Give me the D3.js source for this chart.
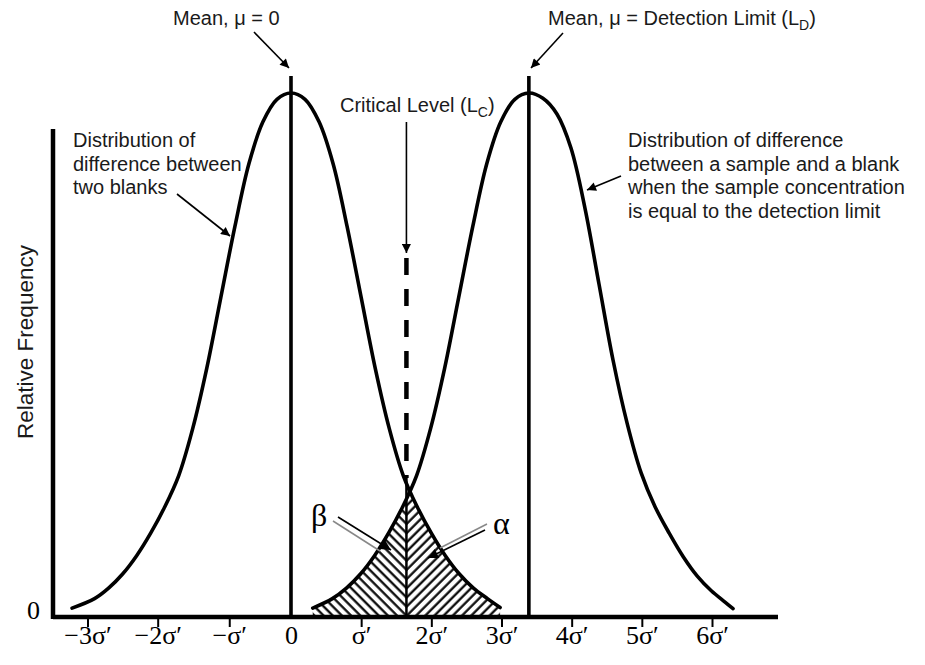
<!DOCTYPE html>
<html>
<head>
<meta charset="utf-8">
<script src="https://cdn.jsdelivr.net/npm/d3@7"></script>
<style>
  body { margin: 0; background: #fff; }
  svg { display: block; }
  .note { font-family: "Liberation Sans", Arial, sans-serif; font-size: 20px; fill: #1a1a1a; }
  .tick text { font-family: "Liberation Serif", "Times New Roman", serif; font-size: 26px; fill: #000; }
  .greek { font-family: "Liberation Serif", "Times New Roman", serif; font-size: 32px; fill: #000; }
</style>
</head>
<body>
<script>
// x in units of sigma', y = relative frequency (peak = 1)
const blankX = [-3.12, -2.8, -2.6, -2.4, -2.2, -2.0, -1.8, -1.6, -1.4, -1.2, -1.0, -0.8, -0.6, -0.4, -0.2, 0,
                0.2, 0.4, 0.6, 0.8, 1.0, 1.2, 1.4, 1.6, 1.8, 2.0, 2.2, 2.4, 2.6, 2.8, 2.98]
const blankY = [0.017, 0.035, 0.055, 0.082, 0.117, 0.16, 0.21, 0.27, 0.36, 0.475, 0.61, 0.745, 0.865, 0.945, 0.988, 1.0,
                0.988, 0.945, 0.865, 0.745, 0.61, 0.475, 0.36, 0.27, 0.21, 0.16, 0.117, 0.082, 0.055, 0.035, 0.018]
const sampleX = [0.31, 0.59, 0.79, 0.99, 1.19, 1.39, 1.59, 1.79, 1.99, 2.19, 2.39, 2.59, 2.79, 2.99, 3.19, 3.39,
                 3.59, 3.79, 3.99, 4.19, 4.39, 4.59, 4.79, 4.99, 5.19, 5.39, 5.59, 5.79, 5.99, 6.19, 6.30]
const sampleY = [0.017, 0.035, 0.055, 0.082, 0.117, 0.16, 0.21, 0.27, 0.36, 0.475, 0.61, 0.745, 0.865, 0.945, 0.988, 1.0,
                 0.99, 0.96, 0.895, 0.78, 0.635, 0.49, 0.37, 0.275, 0.21, 0.16, 0.115, 0.078, 0.05, 0.028, 0.016]
const meanBlank = 0
const detectionLimit = 3.39
const criticalLevel = 1.645
const tickPos = [-2.9, -1.9, -0.88, 0, 1, 2, 3, 4, 5, 6]
const tickLabels = ["\u22123\u03c3\u2032", "\u22122\u03c3\u2032", "\u2212\u03c3\u2032", "0", "\u03c3\u2032", "2\u03c3\u2032", "3\u03c3\u2032", "4\u03c3\u2032", "5\u03c3\u2032", "6\u03c3\u2032"]

const w = 925
const h = 665

const x = d3.scaleLinear().domain([0, 6]).range([291, 712])
const y = d3.scaleLinear().domain([0, 1]).range([617, 93])

const svg = d3.select("body").append("svg")
  .attr("width", w)
  .attr("height", h)

const defs = svg.append("defs")

// hatch patterns: "\" for beta, "/" for alpha
const hatch = (id, angle) => {
  defs.append("pattern")
    .attr("id", id)
    .attr("patternUnits", "userSpaceOnUse")
    .attr("width", 6.5)
    .attr("height", 6.5)
    .attr("patternTransform", "rotate(" + angle + ")")
    .append("line")
    .attr("x1", 1.5).attr("y1", -1).attr("x2", 1.5).attr("y2", 8)
    .attr("stroke", "#000")
    .attr("stroke-width", 2.2)
}
hatch("hatchBeta", -45)
hatch("hatchAlpha", 45)

defs.append("marker")
  .attr("id", "head")
  .attr("viewBox", "0 0 10 10")
  .attr("refX", 10).attr("refY", 5)
  .attr("markerUnits", "userSpaceOnUse")
  .attr("markerWidth", 12).attr("markerHeight", 9)
  .attr("orient", "auto")
  .append("path").attr("d", "M0,0 L10,5 L0,10 Z").attr("fill", "#000")

defs.append("marker")
  .attr("id", "bighead")
  .attr("viewBox", "0 0 10 10")
  .attr("refX", 10).attr("refY", 5)
  .attr("markerUnits", "userSpaceOnUse")
  .attr("markerWidth", 15).attr("markerHeight", 10)
  .attr("orient", "auto")
  .append("path").attr("d", "M0,0 L10,5 L0,10 Z").attr("fill", "#000")

defs.append("clipPath").attr("id", "leftOfLc")
  .append("rect").attr("x", 0).attr("y", 0).attr("width", x(criticalLevel)).attr("height", h)
defs.append("clipPath").attr("id", "rightOfLc")
  .append("rect").attr("x", x(criticalLevel)).attr("y", 0).attr("width", w - x(criticalLevel)).attr("height", h)

const blank = blankX.map((d, i) => [d, blankY[i]])
const sample = sampleX.map((d, i) => [d, sampleY[i]])

const area = d3.area()
  .x(d => x(d[0]))
  .y0(y(0))
  .y1(d => y(d[1]))
  .curve(d3.curveCatmullRom)

const line = d3.line()
  .x(d => x(d[0]))
  .y(d => y(d[1]))
  .curve(d3.curveCatmullRom)

// beta: sample curve left of Lc, alpha: blank curve right of Lc
svg.append("path").attr("d", area(sample)).attr("fill", "url(#hatchBeta)").attr("clip-path", "url(#leftOfLc)")
svg.append("path").attr("d", area(blank)).attr("fill", "url(#hatchAlpha)").attr("clip-path", "url(#rightOfLc)")

svg.selectAll(".curve")
  .data([blank, sample])
  .enter()
  .append("path")
  .attr("class", "curve")
  .attr("d", line)
  .attr("fill", "none")
  .attr("stroke", "#000")
  .attr("stroke-width", 3.6)
  .attr("stroke-linecap", "round")

// mean lines
svg.selectAll(".mean")
  .data([meanBlank, detectionLimit])
  .enter()
  .append("line")
  .attr("class", "mean")
  .attr("x1", d => x(d)).attr("x2", d => x(d))
  .attr("y1", 76).attr("y2", y(0))
  .attr("stroke", "#000")
  .attr("stroke-width", 3.6)

// critical level
svg.append("line")
  .attr("x1", x(criticalLevel)).attr("x2", x(criticalLevel))
  .attr("y1", 258).attr("y2", 478)
  .attr("stroke", "#000")
  .attr("stroke-width", 4.5)
  .attr("stroke-dasharray", "17 14")
svg.append("line")
  .attr("x1", x(criticalLevel)).attr("x2", x(criticalLevel))
  .attr("y1", 478).attr("y2", y(0))
  .attr("stroke", "#000")
  .attr("stroke-width", 2.5)

// axes
const xAxis = d3.axisBottom(x)
  .tickValues(tickPos)
  .tickFormat((d, i) => tickLabels[i])
  .tickSize(10)

const gx = svg.append("g")
  .attr("transform", "translate(0," + y(0) + ")")
  .call(xAxis)
gx.select(".domain").remove()
gx.selectAll(".tick line").attr("stroke-width", 2)
gx.selectAll(".tick").filter(d => d === 0).select("line").remove()
gx.selectAll(".tick text").attr("y", 27).attr("dy", 0)

const yAxis = d3.axisLeft(y).tickValues([0]).tickFormat(d3.format("d")).tickSize(0).tickPadding(13)
const gy = svg.append("g")
  .attr("transform", "translate(53,0)")
  .call(yAxis)
gy.select(".domain").remove()
gy.selectAll(".tick text").attr("dy", "0.05em")

svg.append("line")
  .attr("x1", 53).attr("x2", 778)
  .attr("y1", y(0)).attr("y2", y(0))
  .attr("stroke", "#000").attr("stroke-width", 4.5)
svg.append("line")
  .attr("x1", 53).attr("x2", 53)
  .attr("y1", 129).attr("y2", y(0) + 2)
  .attr("stroke", "#000").attr("stroke-width", 4.5)

svg.append("text")
  .attr("class", "note")
  .attr("transform", "translate(33,342) rotate(-90)")
  .style("font-size", "22.5px")
  .style("text-anchor", "middle")
  .text("Relative Frequency")

// annotations
const addLines = (x0, y0, lines) => {
  const t = svg.append("text").attr("class", "note").attr("x", x0).attr("y", y0)
  lines.forEach((s, i) => t.append("tspan").attr("x", x0).attr("dy", i ? 23.7 : 0).text(s))
}
addLines(73, 147, ["Distribution of", "difference between", "two blanks"])
addLines(628, 147, ["Distribution of difference", "between a sample and a blank",
  "when the sample concentration", "is equal to the detection limit"])

svg.append("text").attr("class", "note").attr("x", 173).attr("y", 25).text("Mean, \u03bc = 0")

const ld = svg.append("text").attr("class", "note").attr("x", 548).attr("y", 25)
ld.append("tspan").text("Mean, \u03bc = Detection Limit (L")
ld.append("tspan").attr("dy", 5).style("font-size", "14px").text("D")
ld.append("tspan").attr("dy", -5).text(")")

const lc = svg.append("text").attr("class", "note").attr("x", 340).attr("y", 112)
lc.append("tspan").text("Critical Level (L")
lc.append("tspan").attr("dy", 5).style("font-size", "14px").text("C")
lc.append("tspan").attr("dy", -5).text(")")

const arrow = (x1, y1, x2, y2, width, marker) => {
  svg.append("line")
    .attr("x1", x1).attr("y1", y1).attr("x2", x2).attr("y2", y2)
    .attr("stroke", "#000")
    .attr("stroke-width", width)
    .attr("marker-end", "url(#" + marker + ")")
}
arrow(254, 32, 289, 68, 1.6, "head")
arrow(563, 33, 531, 68, 1.6, "head")
arrow(x(criticalLevel), 122, x(criticalLevel), 253, 1.6, "head")
arrow(177, 194, 230, 236, 1.6, "head")
arrow(621, 176, 587, 190, 1.6, "head")

// beta / alpha labels with doubled pointer lines
svg.append("text").attr("class", "greek").attr("x", 311).attr("y", 526).text("\u03b2")
svg.append("text").attr("class", "greek").attr("x", 493).attr("y", 534).text("\u03b1")
svg.append("line").attr("x1", 333).attr("y1", 521).attr("x2", 380).attr("y2", 551)
  .attr("stroke", "#888").attr("stroke-width", 1.5)
arrow(338, 517, 391, 550, 1.6, "bighead")
svg.append("line").attr("x1", 487).attr("y1", 524).attr("x2", 440).attr("y2", 548)
  .attr("stroke", "#888").attr("stroke-width", 1.5)
arrow(485, 530, 428, 558, 1.6, "bighead")
</script>
</body>
</html>
